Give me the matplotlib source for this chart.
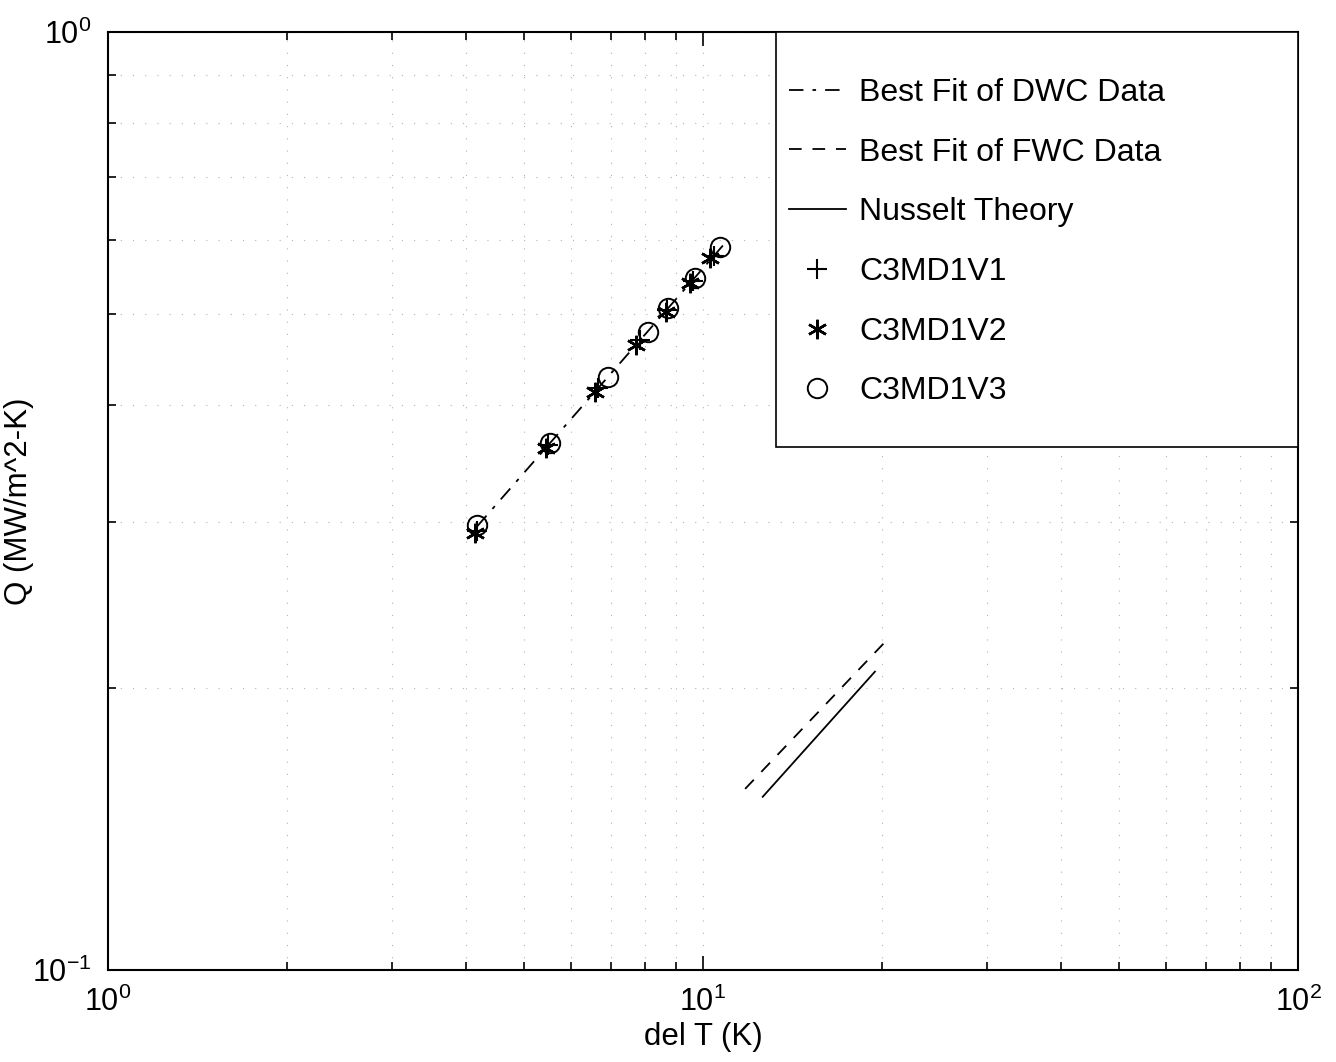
import numpy as np
import matplotlib
matplotlib.use("Agg")
import matplotlib.pyplot as plt
from matplotlib.patches import Rectangle

plt.rcParams['font.family'] = ['Liberation Sans', 'DejaVu Sans']
plt.rcParams['mathtext.fontset'] = 'custom'
plt.rcParams['mathtext.rm'] = 'Liberation Sans'
plt.rcParams['mathtext.it'] = 'Liberation Sans'

# measured data (delta T in K, Q)
dt_v1 = [4.17, 5.49, 6.66, 7.84, 8.71, 9.62, 10.42]
q_v1 = [0.294, 0.363, 0.417, 0.470, 0.505, 0.543, 0.577]
dt_v2 = [4.14, 5.45, 6.59, 7.71, 8.67, 9.51, 10.28]
q_v2 = [0.292, 0.360, 0.413, 0.464, 0.503, 0.540, 0.574]
dt_v3 = [4.17, 5.53, 6.92, 8.08, 8.74, 9.70, 10.68]
q_v3 = [0.298, 0.365, 0.429, 0.479, 0.508, 0.547, 0.590]

# fit / theory lines
dwc_dt = [4.17, 10.8]
dwc_q = [0.297, 0.592]
fwc_dt = [11.77, 20.4]
fwc_q = [0.156, 0.225]
nus_dt = [12.6, 19.45]
nus_q = [0.153, 0.208]

fig = plt.figure(figsize=(13.36, 10.62), dpi=100)
ax = fig.add_axes([0.0808, 0.0866, 0.8908, 0.8833])

ax.plot(dwc_dt, dwc_q, color='k', lw=1.3, dashes=(8, 5, 2, 5),
        label='Best Fit of DWC Data')
ax.plot(fwc_dt, fwc_q, color='k', lw=1.3, dashes=(7, 6),
        label='Best Fit of FWC Data')
ax.plot(nus_dt, nus_q, color='k', lw=1.3, label='Nusselt Theory')
ax.plot(dt_v1, q_v1, ls='none', marker='+', ms=14, mew=1.5, color='k',
        label='C3MD1V1')
ax.plot(dt_v2, q_v2, ls='none', marker=(6, 2, 0), ms=14, mew=1.8, color='k',
        label='C3MD1V2')
ax.plot(dt_v3, q_v3, ls='none', marker='o', ms=14, mew=1.4, mfc='none',
        color='k', label='C3MD1V3')

ax.set_xscale('log')
ax.set_yscale('log')
ax.set_xlim(1, 100)
ax.set_ylim(0.1, 1)

ax.grid(True, which='both', color='0.7', lw=0.8, ls=(0, (1, 10)))
ax.tick_params(which='both', direction='in', top=True, right=True,
               labelsize=22, width=1.2)
ax.tick_params(which='major', length=10, pad=12)
ax.tick_params(which='minor', length=6)
ax.yaxis.set_minor_formatter(plt.NullFormatter())
for s in ax.spines.values():
    s.set_linewidth(1.5)

ax.set_xlabel('del T (K)', fontsize=22.5)
ax.set_ylabel('Q (MW/m^2-K)', fontsize=22.5)
ax.xaxis.set_label_coords(0.5, -0.0555)
ax.yaxis.set_label_coords(-0.062, 0.5)

# legend box like the original
ax.add_patch(Rectangle((0.5613, 0.5576), 0.4387, 0.4424, transform=ax.transAxes,
                       fill=True, facecolor='white', edgecolor='k', lw=1.2,
                       zorder=4))
leg = ax.legend(loc='upper left', bbox_to_anchor=(0.572, 0.951), frameon=False,
                fontsize=23, handlelength=1.8, handletextpad=0.4,
                labelspacing=0.93, borderpad=0, borderaxespad=0)
leg.set_zorder(5)

fig.savefig('out.png', dpi=100)
